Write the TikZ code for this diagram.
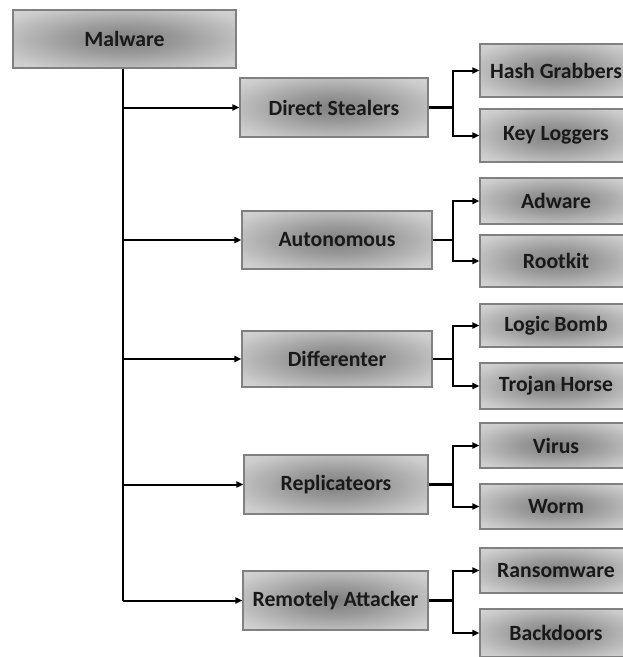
\documentclass[tikz,border=0pt]{standalone}
\usepackage{fontspec}
\setmainfont{Carlito}
\usetikzlibrary{arrows.meta,calc}
\newcommand\pxu{0.75pt}
\pgfdeclareradialshading{boxshade}{\pgfpoint{0bp}{0bp}}{color(0bp)=(black!50); color(12bp)=(black!40); color(30bp)=(black!20); color(50bp)=(black!8); color(72bp)=(black!4)}
\begin{document}
\begin{tikzpicture}[x=0.75pt,y=-0.75pt,
  box/.style={draw=black!50,line width=1.2*\pxu,shading=boxshade,
    font=\fontsize{16.3}{19}\selectfont\bfseries,text=black!90,inner sep=0pt},
  trunk/.style={line width=2.6*\pxu,black},
  link/.style={line width=2*\pxu,black,-{Triangle[length=7*\pxu,width=6*\pxu]}},
  bline/.style={line width=2.6*\pxu,black}]
\useasboundingbox (0,0) rectangle (623,657);
\clip (0,0) rectangle (623,657);
\node[box,minimum width=223*\pxu,minimum height=58*\pxu] (MW) at (124.5,39) {Malware};
\node[box,minimum width=188*\pxu,minimum height=59*\pxu] (DS) at (334,107.5) {Direct Stealers};
\node[box,minimum width=190*\pxu,minimum height=58*\pxu] (AU) at (337,240) {Autonomous};
\node[box,minimum width=190*\pxu,minimum height=56*\pxu] (DI) at (337,359) {Differenter};
\node[box,minimum width=184*\pxu,minimum height=59*\pxu] (RE) at (336,484.5) {Replicateors};
\node[box,minimum width=185*\pxu,minimum height=59*\pxu] (RA) at (335.5,600.5) {Remotely Attacker};
\node[box,minimum width=152*\pxu,minimum height=53*\pxu] (HG) at (556,70.5) {Hash Grabbers};
\node[box,minimum width=152*\pxu,minimum height=53*\pxu] (KL) at (556,135.5) {Key Loggers};
\node[box,minimum width=152*\pxu,minimum height=46*\pxu] (AD) at (556,201) {Adware};
\node[box,minimum width=152*\pxu,minimum height=52*\pxu] (RK) at (556,261) {Rootkit};
\node[box,minimum width=152*\pxu,minimum height=43*\pxu] (LB) at (556,325.5) {Logic Bomb};
\node[box,minimum width=152*\pxu,minimum height=46*\pxu] (TH) at (556,386) {Trojan Horse};
\node[box,minimum width=152*\pxu,minimum height=45*\pxu] (VI) at (556,445.5) {Virus};
\node[box,minimum width=152*\pxu,minimum height=45*\pxu] (WO) at (556,506.5) {Worm};
\node[box,minimum width=152*\pxu,minimum height=45*\pxu] (RW) at (556,570.5) {Ransomware};
\node[box,minimum width=152*\pxu,minimum height=48*\pxu] (BD) at (556,633) {Backdoors};
\coordinate (tx) at (123,0);
\coordinate (jx) at (453,0);
\draw[trunk] (MW.south -| tx) -- (RA.west -| tx);
\foreach \n in {DS,AU,DI,RE,RA}{
  \draw[link] (\n.west -| tx) -- (\n.west);
}
\foreach \p/\a/\b in {DS/HG/KL,AU/AD/RK,DI/LB/TH,RE/VI/WO,RA/RW/BD}{
  \draw[bline] (\p.east) -- (\p.east -| jx);
  \draw[link] (\p.east -| jx) |- (\a.west);
  \draw[link] (\p.east -| jx) |- (\b.west);
}
\end{tikzpicture}
\end{document}
